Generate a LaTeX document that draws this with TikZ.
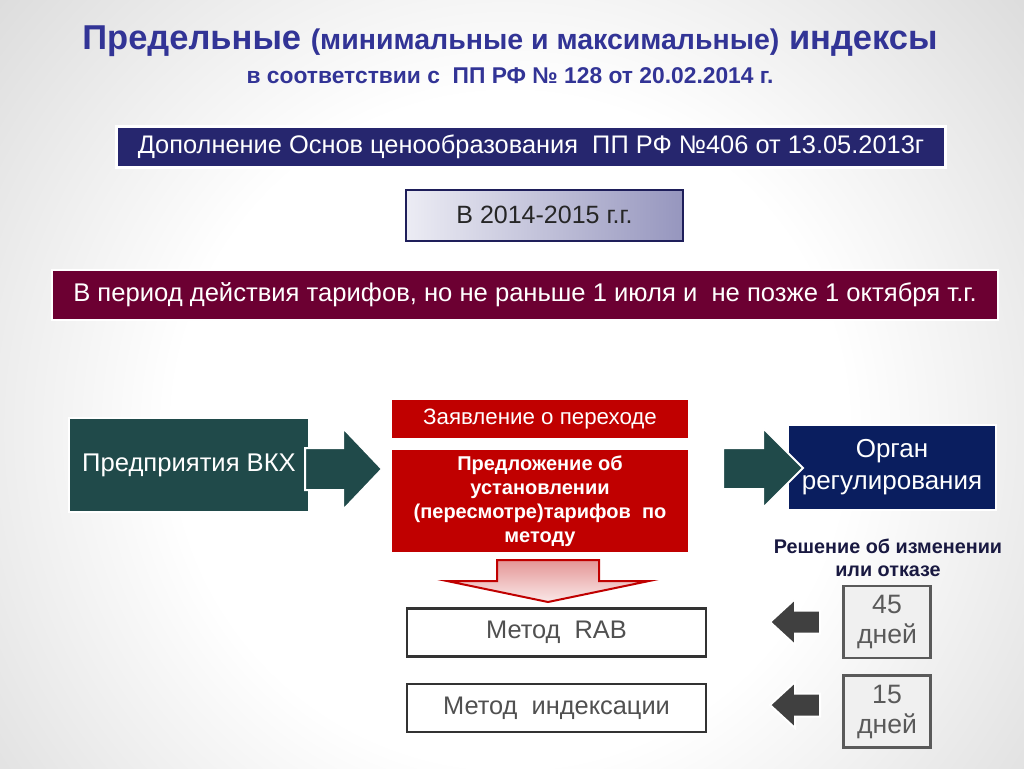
\documentclass[tikz,border=0pt]{standalone}
\usepackage{fontspec}
\setmainfont{Liberation Sans}
\usetikzlibrary{positioning}

\definecolor{titleblue}{RGB}{50,52,150}
\definecolor{navyfill}{RGB}{38,38,110}
\definecolor{yearleft}{RGB}{236,236,244}
\definecolor{yearright}{RGB}{150,150,190}
\definecolor{yearborder}{RGB}{30,30,90}
\definecolor{maroonfill}{RGB}{108,0,50}
\definecolor{tealfill}{RGB}{32,74,74}
\definecolor{redfill}{RGB}{192,0,0}
\definecolor{organfill}{RGB}{10,30,95}
\definecolor{decisiontext}{RGB}{25,25,65}
\definecolor{daytext}{RGB}{90,90,90}
\definecolor{dayfill}{RGB}{240,240,240}
\definecolor{methodtext}{RGB}{80,80,80}
\definecolor{arrowgray}{RGB}{64,64,64}
\definecolor{pinktop}{RGB}{228,150,150}
\definecolor{pinkbottom}{RGB}{250,232,232}
\definecolor{bgmid}{RGB}{202,202,202}
\definecolor{bgedge}{RGB}{142,142,142}
\definecolor{bgcorner}{RGB}{110,110,110}

\pgfdeclareradialshading{slidebg}{\pgfpoint{0bp}{0bp}}{color(0bp)=(white); color(15bp)=(white); color(38bp)=(bgmid); color(46bp)=(bgedge); color(58bp)=(bgcorner); color(75bp)=(bgcorner)}

\begin{document}
\begin{tikzpicture}[x=1pt, y=-1pt,
    every node/.style={inner sep=0pt, align=center},
    titletext/.style={text=titleblue, font=\bfseries\fontsize{34.5}{38}\selectfont},
    navybox/.style={fill=navyfill, draw=white, line width=2.5pt, text=white, font=\fontsize{25.4}{29}\selectfont},
    yearbox/.style={left color=yearleft, right color=yearright, draw=yearborder, line width=2pt, text=black!85, font=\fontsize{25}{29}\selectfont},
    maroonbox/.style={fill=maroonfill, draw=white, line width=2.5pt, text=white, font=\fontsize{25.6}{29}\selectfont},
    tealbox/.style={fill=tealfill, draw=white, line width=2pt, text=white, font=\fontsize{25.6}{29}\selectfont},
    redbox/.style={fill=redfill, text=white, minimum width=296pt, font=\fontsize{22.3}{26}\selectfont},
    organbox/.style={fill=organfill, draw=white, line width=2pt, text=white, font=\fontsize{26}{32}\selectfont},
    daybox/.style={fill=dayfill, draw=daytext, line width=2.5pt, text=daytext, minimum width=87pt, minimum height=72pt, font=\fontsize{26.6}{30}\selectfont},
    methodbox/.style={fill=white, draw=black!80, line width=2.5pt, text=methodtext, minimum width=299pt, minimum height=48pt, font=\fontsize{25.4}{29}\selectfont},
    tealarrow/.style={fill=tealfill, draw=white, line width=2pt, line join=miter},
    grayarrow/.style={fill=arrowgray, draw=white, line width=2pt},
    pinkarrow/.style={top color=pinktop, bottom color=pinkbottom, draw=redfill, line width=2pt},
    ]
    % slide background
    \begin{scope}
      \clip (0,0) rectangle (1024,768);
      \fill[shading=slidebg] (-50,-130) rectangle (1070,990);
    \end{scope}
    \useasboundingbox (0,0) rectangle (1024,768);

    \node[titletext] (title) at (510,41) {Предельные {\fontsize{28.5}{32}\selectfont(минимальные и максимальные)} индексы};
    \node[titletext, font=\bfseries\fontsize{22.8}{26}\selectfont] (subtitle) at (510,76) {в соответствии с\ \ ПП РФ № 128 от 20.02.2014 г.};

    \node[navybox, minimum width=829pt, minimum height=41pt] (basis) at (531,147) {Дополнение Основ ценообразования\ \ ПП РФ №406 от 13.05.2013г};
    \node[yearbox, minimum width=277pt, minimum height=51pt] (years) at (544.5,215) {В 2014-2015 г.г.};
    \node[maroonbox, minimum width=946pt, minimum height=50pt] (period) at (525,295) {В период действия тарифов, но не раньше 1 июля и\ \ не позже 1 октября т.г.};

    \node[tealbox, minimum width=240pt, minimum height=94pt] (vkh) at (189,465) {Предприятия ВКХ};
    \node[redbox, minimum height=38pt] (claim) at (540,419) {Заявление о переходе};
    \node[redbox, minimum height=102pt, below=12pt of claim, font=\bfseries\fontsize{20}{24}\selectfont] (offer) {Предложение об\\установлении\\(пересмотре)тарифов\ \ по\\методу};
    \node[organbox, minimum width=208pt, minimum height=85pt] (organ) at (892,467.5) {Орган\\регулирования};

    \node[text=decisiontext, font=\bfseries\fontsize{19.8}{23}\selectfont] (decision) at (888,558) {Решение об изменении\\или отказе};
    \node[daybox] (d45) at (887,622) {45\\дней};
    \node[daybox, below=15pt of d45] (d15) {15\\дней};

    \node[methodbox] (rab) at (556.5,632.5) {Метод\ \ RAB};
    \node[methodbox, below=25pt of rab] (indexing) {Метод\ \ индексации};

    % block arrows
    \coordinate (a1) at (305,469);
    \coordinate (a2) at (723,469);
    \coordinate (a3) at (548,560);
    \coordinate (a4) at (770,622);
    \coordinate (a5) at (770,705);
    \draw[tealarrow] (a1) ++(0,-21) -- ++(38,0) -- ++(0,-20) -- ++(39,41) -- ++(-39,41) -- ++(0,-20) -- ++(-38,0) -- cycle;
    \draw[tealarrow] (a2) ++(0,-21) -- ++(40,0) -- ++(0,-20) -- ++(40,40) -- ++(-40,40) -- ++(0,-19) -- ++(-40,0) -- cycle;
    \draw[pinkarrow] (a3) ++(-51,0) -- ++(102,0) -- ++(0,21) -- ++(50,0) -- ++(-101,21) -- ++(-101,-21) -- ++(50,0) -- cycle;
    \draw[grayarrow] (a4) -- ++(25,-23) -- ++(0,11.5) -- ++(25,0) -- ++(0,23) -- ++(-25,0) -- ++(0,11.5) -- cycle;
    \draw[grayarrow] (a5) -- ++(25,-23) -- ++(0,11.5) -- ++(25,0) -- ++(0,23) -- ++(-25,0) -- ++(0,11.5) -- cycle;
\end{tikzpicture}
\end{document}
